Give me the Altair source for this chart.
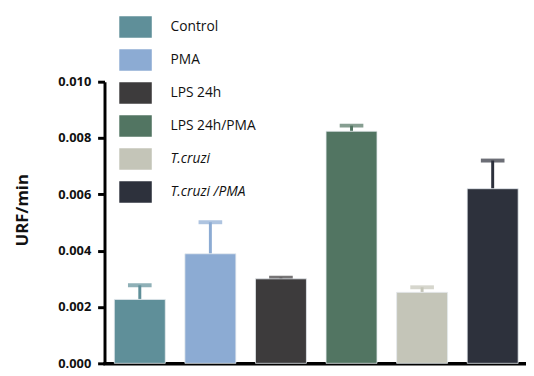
import altair as alt
import pandas as pd

groups = ["Control", "PMA", "LPS 24h", "LPS 24h/PMA", "T.cruzi", "T.cruzi /PMA"]
means = [0.00227, 0.00389, 0.00300, 0.00824, 0.00252, 0.00620]
errors = [0.00050, 0.00112, 0.00004, 0.00020, 0.00018, 0.00100]
colors = ["#5F8F99", "#8CABD3", "#3D3B3C", "#527562", "#C4C5B8", "#2D313C"]

df = pd.DataFrame({"group": groups, "mean": means, "err": errors})
df["top"] = df["mean"] + df["err"]

xscale = alt.Scale(range=[0, 430], paddingInner=0.2778, paddingOuter=0.1389)
x = alt.X("group:N", sort=groups, title=None, scale=xscale,
          axis=alt.Axis(labels=False, ticks=False, domainWidth=3.5, domainColor="black"))
yscale = alt.Scale(domain=[0, 0.010], nice=False)
color = alt.Color("group:N", sort=groups, title=None,
                  scale=alt.Scale(domain=groups, range=colors),
                  legend=alt.Legend(orient="none", legendX=15, legendY=-72,
                                    symbolType="M-1,-0.667H1V0.667H-1Z", symbolSize=1089,
                                    symbolStrokeWidth=0, symbolOpacity=1,
                                    labelFont="Open Sans", labelFontSize=14, labelColor="#111",
                                    labelFontStyle=alt.ExprRef(
                                        "indexof(datum.label, 'T.cruzi') >= 0 ? 'italic' : 'normal'"),
                                    labelOffset=19, rowPadding=5.5, padding=0, labelLimit=300))

bars = alt.Chart(df).mark_bar(stroke="#e6ebee", strokeWidth=0.8).encode(
    x=x,
    y=alt.Y("mean:Q", scale=yscale, title="URF/min",
            axis=alt.Axis(values=[0, 0.002, 0.004, 0.006, 0.008, 0.010], format=".3f",
                          grid=False, domainWidth=3, domainColor="black",
                          tickWidth=3, tickSize=7, tickColor="black",
                          labelFont="Open Sans", labelFontWeight="bold", labelFontSize=13,
                          labelColor="#111", labelPadding=7,
                          titleFont="Open Sans", titleFontWeight="bold", titleFontSize=17,
                          titleColor="#111", titlePadding=27, titleY=130)),
    color=color,
)

stems = alt.Chart(df).mark_rule(strokeWidth=3).encode(
    x=alt.X("group:N", sort=groups, scale=xscale),
    y=alt.Y("mean:Q", scale=yscale),
    y2="top:Q",
    color=color,
)

caps = alt.Chart(df).mark_tick(thickness=4, size=24, orient="horizontal").encode(
    x=alt.X("group:N", sort=groups, scale=xscale),
    y=alt.Y("top:Q", scale=yscale),
    color=color,
)

chart = alt.layer(stems, caps, bars).properties(
    width=426, height=286,
    padding={"left": 98, "top": 72, "right": 2, "bottom": 8},
    autosize=alt.AutoSizeParams(type="none"),
).configure_view(stroke=None).configure_axisX(domainCap="square")

chart.save("out.html", embed_options={"renderer": "svg", "actions": False})
